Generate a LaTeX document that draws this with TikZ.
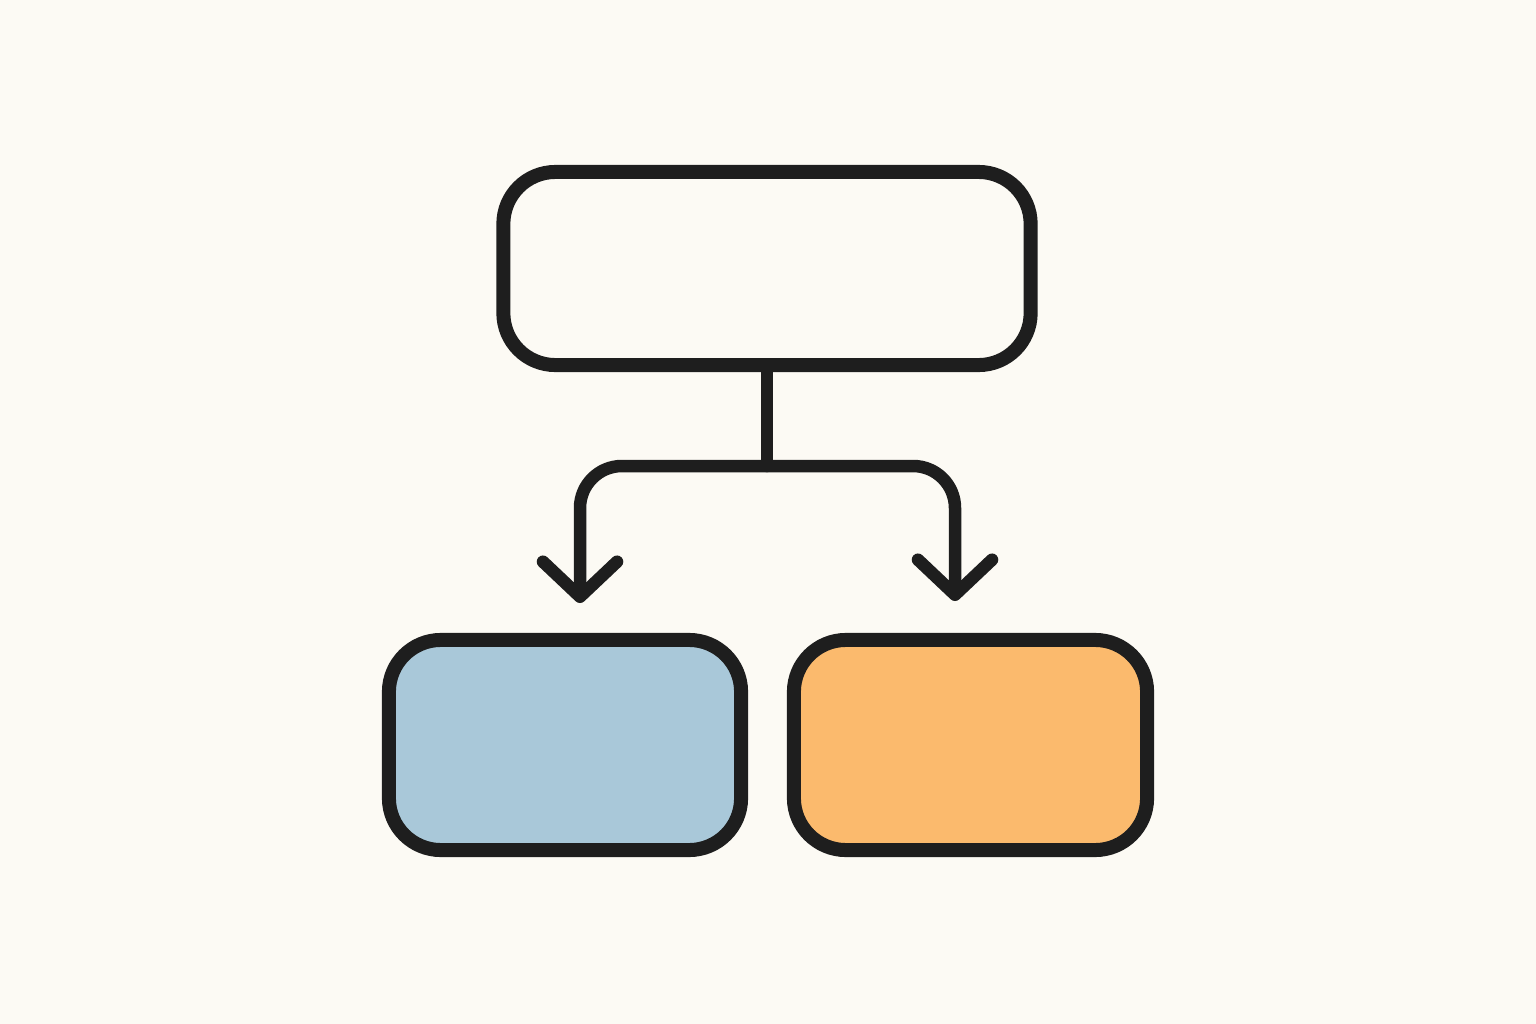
\documentclass[tikz,border=0pt]{standalone}
\usetikzlibrary{arrows.meta}
\definecolor{bg}{HTML}{FCFAF4}
\definecolor{ink}{HTML}{1E1E1E}
\definecolor{boxblue}{HTML}{A9C8D9}
\definecolor{boxorange}{HTML}{FBBA6D}
\begin{document}
\begin{tikzpicture}[x=0.01cm,y=-0.01cm,
  box/.style={draw=ink,line width=0.14cm,rounded corners=0.52cm,inner sep=0pt},
  conn/.style={draw=ink,line width=0.125cm,line cap=round,line join=round},
  arr/.style={conn,rounded corners=0.42cm,-{Straight Barb[length=0.35cm,width=0.74cm,line cap=round,line join=round]}}]
\fill[bg] (0,0) rectangle (1536,1024);
\useasboundingbox (0,0) rectangle (1536,1024);
\node[box,fill=bg,minimum width=5.27cm,minimum height=1.93cm] (top) at (767,268.5) {};
\node[box,fill=boxblue,minimum width=3.52cm,minimum height=2.10cm] (left) at (565,745) {};
\node[box,fill=boxorange,minimum width=3.53cm,minimum height=2.10cm] (right) at (970.5,745) {};
\coordinate (j) at (767,466);
\coordinate (la) at (580,603);
\coordinate (ra) at (955,601);
\draw[conn,line cap=butt] (top.south) -- (j);
\draw[arr] (j) -| (la);
\draw[arr] (j) -| (ra);
\end{tikzpicture}
\end{document}
